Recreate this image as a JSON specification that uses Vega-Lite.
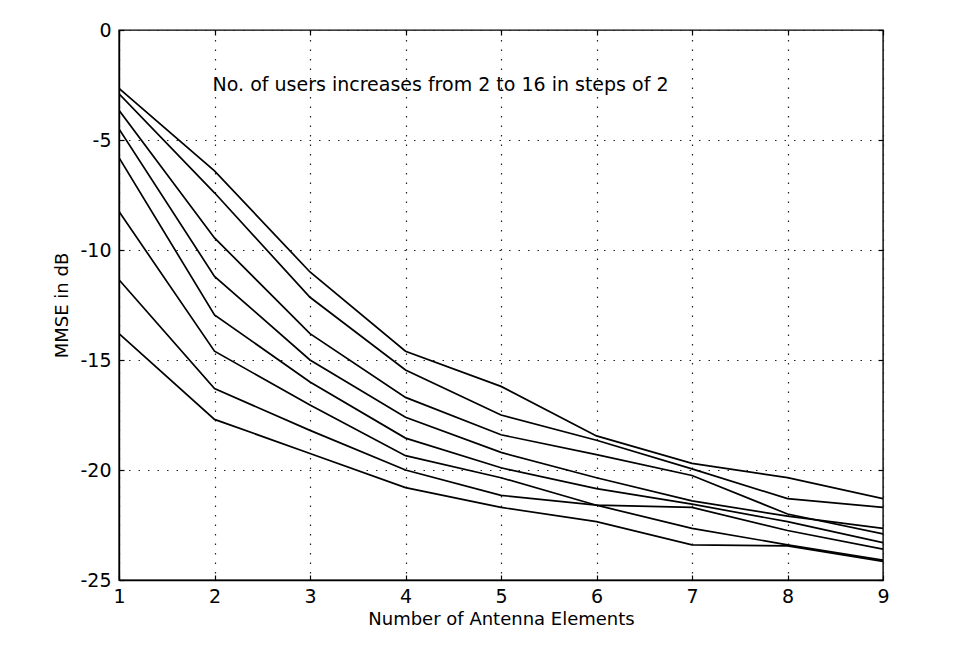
{
  "$schema": "https://vega.github.io/schema/vega-lite/v6.json",
  "width": 764,
  "height": 550,
  "autosize": "none",
  "padding": {"left": 119, "top": 30, "right": 78, "bottom": 66},
  "background": "white",
  "config": {
    "view": {"stroke": "black", "strokeWidth": 1.4},
    "font": "DejaVu Sans",
    "axis": {
      "domainColor": "black",
      "domainWidth": 1.4,
      "tickColor": "black",
      "tickWidth": 1.2,
      "labelColor": "black",
      "titleColor": "black",
      "labelFont": "DejaVu Sans",
      "titleFont": "DejaVu Sans",
      "labelFontSize": 19,
      "titleFontSize": 18,
      "titleFontWeight": "normal",
      "gridColor": "#222222",
      "gridDash": [1.5, 8],
      "gridWidth": 1.2,
      "gridOpacity": 1
    }
  },
  "data": {
    "values": [
      {"n": 1, "users": 16, "mmse": -2.65}, {"n": 2, "users": 16, "mmse": -6.4}, {"n": 3, "users": 16, "mmse": -11.0}, {"n": 4, "users": 16, "mmse": -14.6}, {"n": 5, "users": 16, "mmse": -16.2}, {"n": 6, "users": 16, "mmse": -18.45}, {"n": 7, "users": 16, "mmse": -19.7}, {"n": 8, "users": 16, "mmse": -20.35}, {"n": 9, "users": 16, "mmse": -21.3},
      {"n": 1, "users": 14, "mmse": -2.9}, {"n": 2, "users": 14, "mmse": -7.4}, {"n": 3, "users": 14, "mmse": -12.15}, {"n": 4, "users": 14, "mmse": -15.45}, {"n": 5, "users": 14, "mmse": -17.5}, {"n": 6, "users": 14, "mmse": -18.65}, {"n": 7, "users": 14, "mmse": -19.95}, {"n": 8, "users": 14, "mmse": -21.3}, {"n": 9, "users": 14, "mmse": -21.7},
      {"n": 1, "users": 12, "mmse": -3.65}, {"n": 2, "users": 12, "mmse": -9.45}, {"n": 3, "users": 12, "mmse": -13.8}, {"n": 4, "users": 12, "mmse": -16.7}, {"n": 5, "users": 12, "mmse": -18.4}, {"n": 6, "users": 12, "mmse": -19.3}, {"n": 7, "users": 12, "mmse": -20.25}, {"n": 8, "users": 12, "mmse": -22.0}, {"n": 9, "users": 12, "mmse": -22.9},
      {"n": 1, "users": 10, "mmse": -4.5}, {"n": 2, "users": 10, "mmse": -11.2}, {"n": 3, "users": 10, "mmse": -15.0}, {"n": 4, "users": 10, "mmse": -17.6}, {"n": 5, "users": 10, "mmse": -19.2}, {"n": 6, "users": 10, "mmse": -20.35}, {"n": 7, "users": 10, "mmse": -21.4}, {"n": 8, "users": 10, "mmse": -22.1}, {"n": 9, "users": 10, "mmse": -22.65},
      {"n": 1, "users": 8, "mmse": -5.8}, {"n": 2, "users": 8, "mmse": -12.95}, {"n": 3, "users": 8, "mmse": -16.0}, {"n": 4, "users": 8, "mmse": -18.55}, {"n": 5, "users": 8, "mmse": -19.9}, {"n": 6, "users": 8, "mmse": -20.85}, {"n": 7, "users": 8, "mmse": -21.55}, {"n": 8, "users": 8, "mmse": -22.35}, {"n": 9, "users": 8, "mmse": -23.3},
      {"n": 1, "users": 6, "mmse": -8.25}, {"n": 2, "users": 6, "mmse": -14.6}, {"n": 3, "users": 6, "mmse": -17.05}, {"n": 4, "users": 6, "mmse": -19.35}, {"n": 5, "users": 6, "mmse": -20.35}, {"n": 6, "users": 6, "mmse": -21.6}, {"n": 7, "users": 6, "mmse": -22.65}, {"n": 8, "users": 6, "mmse": -23.4}, {"n": 9, "users": 6, "mmse": -24.1},
      {"n": 1, "users": 4, "mmse": -11.35}, {"n": 2, "users": 4, "mmse": -16.3}, {"n": 3, "users": 4, "mmse": -18.2}, {"n": 4, "users": 4, "mmse": -20.0}, {"n": 5, "users": 4, "mmse": -21.15}, {"n": 6, "users": 4, "mmse": -21.6}, {"n": 7, "users": 4, "mmse": -21.7}, {"n": 8, "users": 4, "mmse": -22.75}, {"n": 9, "users": 4, "mmse": -23.6},
      {"n": 1, "users": 2, "mmse": -13.8}, {"n": 2, "users": 2, "mmse": -17.7}, {"n": 3, "users": 2, "mmse": -19.25}, {"n": 4, "users": 2, "mmse": -20.8}, {"n": 5, "users": 2, "mmse": -21.7}, {"n": 6, "users": 2, "mmse": -22.35}, {"n": 7, "users": 2, "mmse": -23.4}, {"n": 8, "users": 2, "mmse": -23.45}, {"n": 9, "users": 2, "mmse": -24.15}
    ]
  },
  "layer": [
    {
      "mark": {"type": "line", "color": "black", "strokeWidth": 1.7, "clip": true},
      "encoding": {
        "x": {
          "field": "n", "type": "quantitative",
          "scale": {"domain": [1, 9], "nice": false, "zero": false},
          "axis": {"values": [1, 2, 3, 4, 5, 6, 7, 8, 9], "grid": true, "tickSize": -5, "labelPadding": 12, "title": "Number of Antenna Elements", "titlePadding": 4, "labelFlush": false}
        },
        "y": {
          "field": "mmse", "type": "quantitative",
          "scale": {"domain": [-25, 0], "nice": false, "zero": false},
          "axis": {"values": [-25, -20, -15, -10, -5, 0], "grid": true, "tickSize": -5, "labelPadding": 13, "title": "MMSE in dB", "titlePadding": 8, "labelFlush": false, "format": "d", "labelExpr": "replace(datum.label, '−', '-')"}
        },
        "detail": {"field": "users", "type": "nominal"}
      }
    },
    {
      "data": {"values": [{"note": "No. of users increases from 2 to 16 in steps of 2"}]},
      "mark": {"type": "text", "align": "left", "baseline": "middle", "fontSize": 19, "font": "DejaVu Sans", "color": "black"},
      "encoding": {
        "x": {"datum": 1.98, "type": "quantitative", "axis": {"orient": "top", "values": [1, 2, 3, 4, 5, 6, 7, 8, 9], "labels": false, "tickSize": -5, "domain": false, "grid": false, "title": null}},
        "y": {"datum": -2.5, "type": "quantitative", "axis": {"orient": "right", "values": [-25, -20, -15, -10, -5, 0], "labels": false, "tickSize": -5, "domain": false, "grid": false, "title": null}},
        "text": {"field": "note", "type": "nominal"}
      }
    }
  ],
  "resolve": {"axis": {"x": "independent", "y": "independent"}}
}
